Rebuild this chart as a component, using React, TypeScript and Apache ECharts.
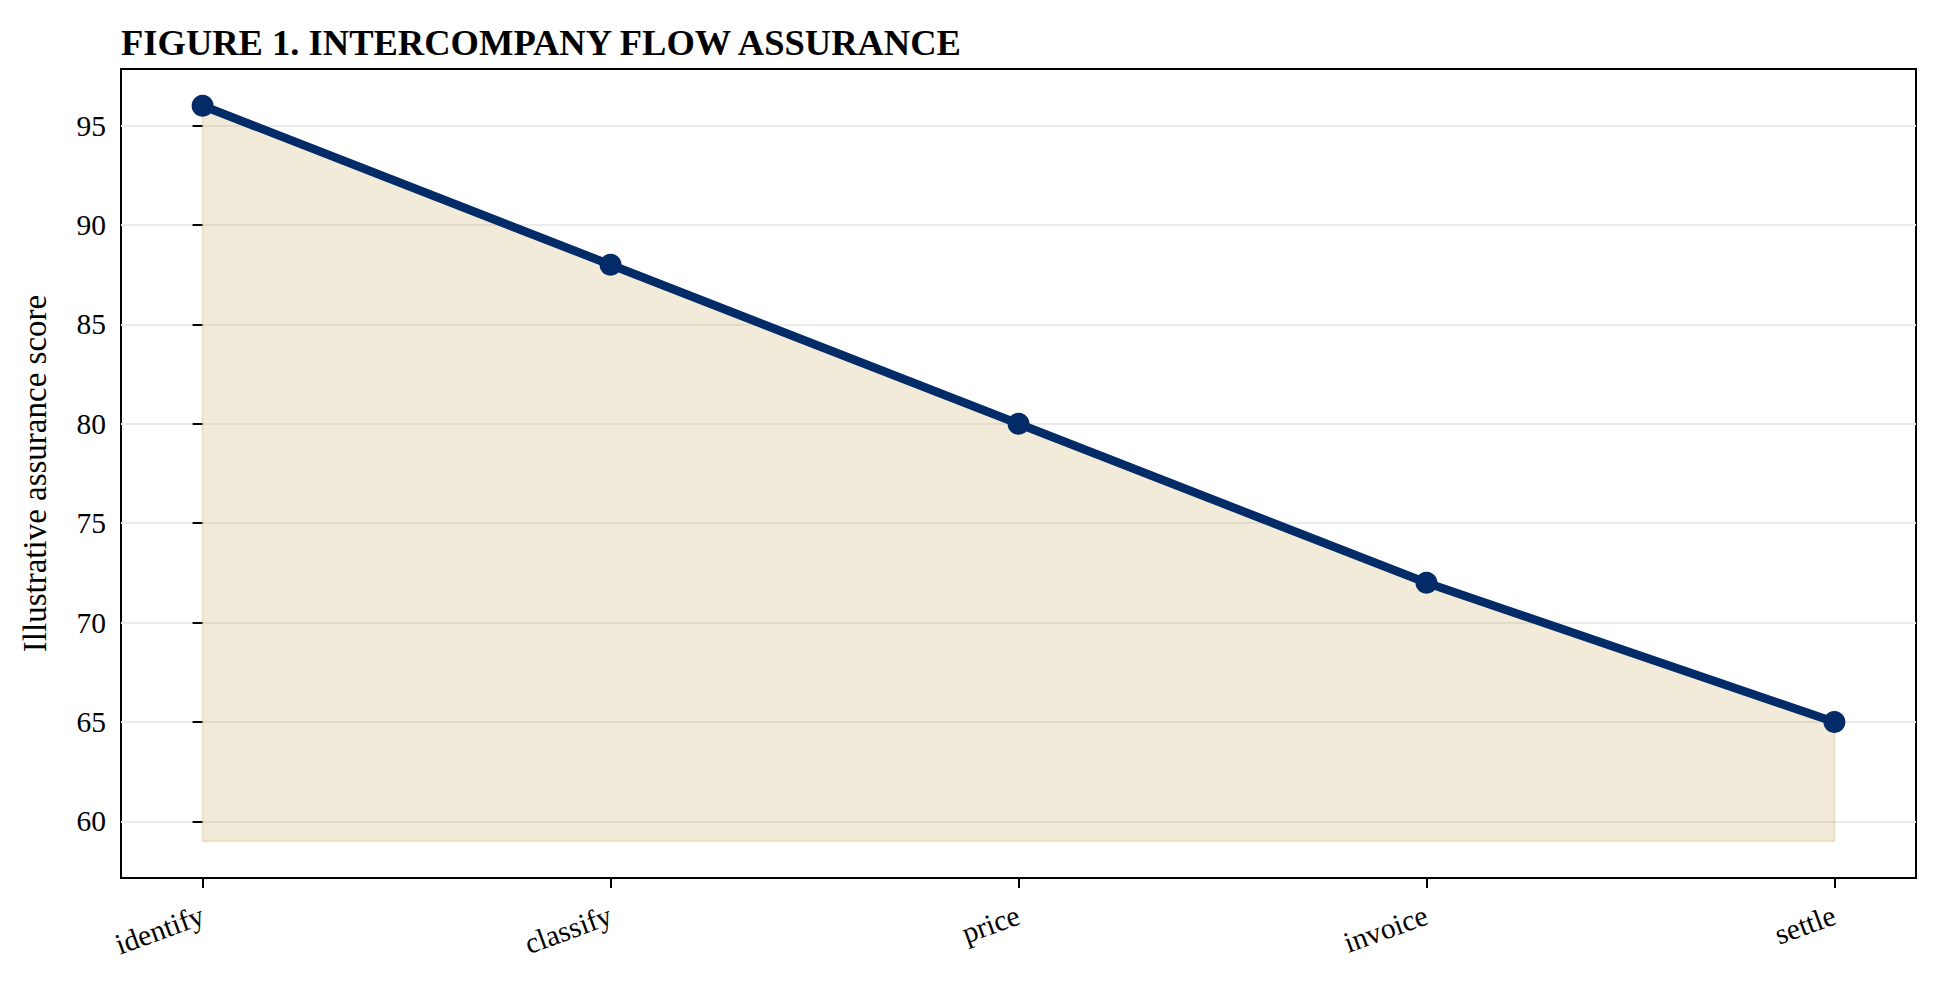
import { useEffect, useRef } from 'react'
import * as echarts from 'echarts'

// 数据
const stages = ['identify', 'classify', 'price', 'invoice', 'settle']
const scores = [96, 88, 80, 72, 65]
const fillFloor = 59
const yTicks = [60, 65, 70, 75, 80, 85, 90, 95]
const xTicks = [0, 1, 2, 3, 4]

const NAVY = '#022B68'
const FONT = '"Liberation Serif", "Times New Roman", serif'

function App() {
  const chartRef = useRef<HTMLDivElement>(null)

  useEffect(() => {
    const chart = echarts.init(chartRef.current, null, { renderer: 'svg' })

    chart.setOption({
      animation: false,
      backgroundColor: '#fff',
      title: {
        text: 'FIGURE 1. INTERCOMPANY FLOW ASSURANCE',
        left: 121,
        top: 24,
        padding: 0,
        textStyle: { fontFamily: FONT, fontSize: 36.5, fontWeight: 'bold', color: '#000' }
      },
      grid: {
        left: 121,
        right: 24,
        top: 69,
        bottom: 105,
        show: true,
        borderColor: '#000',
        borderWidth: 2,
        backgroundColor: 'transparent'
      },
      xAxis: {
        type: 'value',
        min: -0.2,
        max: 4.2,
        splitNumber: 4,
        axisLine: { show: false },
        splitLine: { show: false },
        axisTick: { show: true, customValues: xTicks, length: 10, lineStyle: { color: '#000', width: 2 } },
        axisLabel: {
          customValues: xTicks,
          formatter: (v: number) => stages[Math.round(v)] ?? '',
          rotate: 20,
          margin: 36,
          fontFamily: FONT,
          fontSize: 29.5,
          color: '#000'
        }
      },
      yAxis: {
        type: 'value',
        min: 57.15,
        max: 97.85,
        splitNumber: 8,
        name: 'Illustrative assurance score',
        nameLocation: 'middle',
        nameGap: 70,
        nameTextStyle: { fontFamily: FONT, fontSize: 33, color: '#000' },
        axisLine: { show: false },
        axisTick: { show: true, customValues: yTicks, length: 10, lineStyle: { color: '#000', width: 2 } },
        axisLabel: { customValues: yTicks, margin: 15, fontFamily: FONT, fontSize: 29.5, color: '#000' },
        splitLine: { show: true, lineStyle: { color: '#EBEBEB', width: 2 } }
      },
      series: [
        {
          // 填充区域
          type: 'custom',
          silent: true,
          z: 1,
          data: [[0, fillFloor]],
          renderItem: (params: any, api: any) => {
            if (params.dataIndex !== 0) return null
            const top = scores.map((v, i) => api.coord([i, v]))
            const base = [api.coord([scores.length - 1, fillFloor]), api.coord([0, fillFloor])]
            return {
              type: 'polygon',
              shape: { points: [...top, ...base] },
              style: { fill: 'rgba(196,155,65,0.2)', stroke: 'rgba(196,155,65,0.22)', lineWidth: 2 }
            }
          }
        },
        {
          type: 'line',
          z: 3,
          data: scores.map((v, i) => [i, v]),
          symbol: 'circle',
          symbolSize: 22,
          lineStyle: { color: NAVY, width: 8.5 },
          itemStyle: { color: NAVY }
        }
      ]
    })

    return () => {
      chart.dispose()
    }
  }, [])

  return (
    <div
      ref={chartRef}
      style={{ position: 'absolute', left: 0, top: 0, width: '1940px', height: '983px' }}
    ></div>
  )
}

export default App
